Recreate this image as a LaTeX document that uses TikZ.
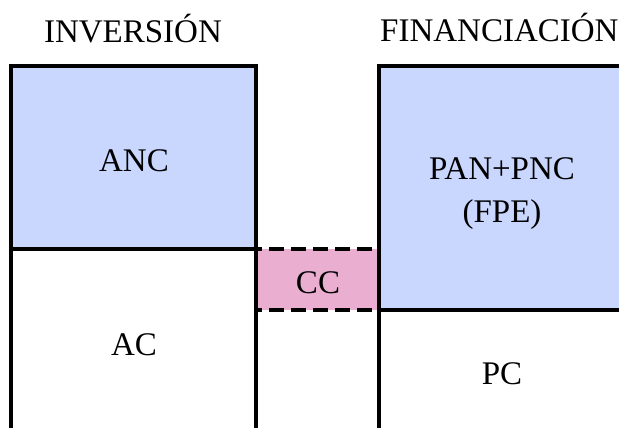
\documentclass[tikz,border=0pt]{standalone}
\usepackage{fontspec}
\setmainfont{Liberation Serif}
\definecolor{boxblue}{RGB}{201,215,255}
\definecolor{boxpink}{RGB}{234,174,208}
\begin{document}
\begin{tikzpicture}[x=1pt,y=-1pt,
  edge/.style={line width=4.5pt},
  dashedge/.style={line width=4.5pt,dash pattern=on 15pt off 7pt,dash phase=-13pt},
  lbl/.style={font=\fontsize{33}{38}\selectfont,inner sep=0pt,anchor=base}]
\useasboundingbox (0,0) rectangle (619,428);
% fills
\fill[boxblue] (11,66) rectangle (256,249);
\fill[boxblue] (379,66) rectangle (630,310);
\fill[boxpink] (256,249) rectangle (379,310);
% outlines
\draw[edge] (11,440) -- (11,66) -- (256,66) -- (256,440);
\draw[edge] (11,249) -- (256,249);
\draw[edge] (379,440) -- (379,66) -- (630,66);
\draw[edge] (379,310) -- (630,310);
\draw[dashedge] (256,249) -- (379,249);
\draw[dashedge] (256,310) -- (379,310);
% labels
\node[lbl] (inv) at (133,43) {INVERSIÓN};
\node[lbl,anchor=base west] (fin) at (380,42) {FINANCIACIÓN};
\node[lbl] (anc) at (134,171) {ANC};
\node[lbl] (ac) at (134,355) {AC};
\node[lbl] (cc) at (318,293) {CC};
\node[lbl] (pan) at (502,179) {PAN+PNC};
\node[lbl] (fpe) at (502,222) {(FPE)};
\node[lbl] (pc) at (502,384) {PC};
\end{tikzpicture}
\end{document}
